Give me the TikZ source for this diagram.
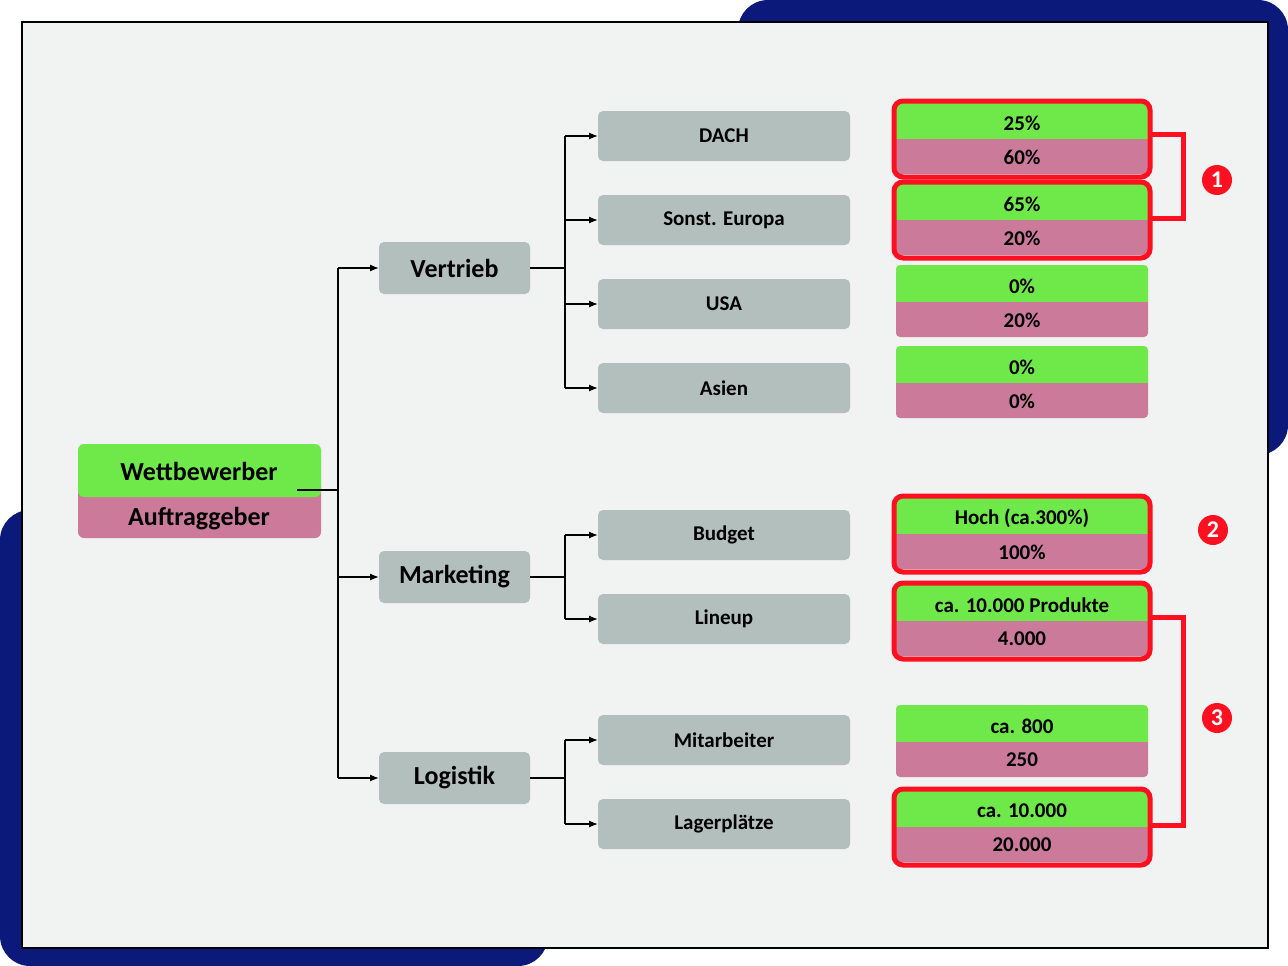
\documentclass[tikz,border=0pt]{standalone}
\usepackage{fontspec}
\setmainfont{Carlito}
\usetikzlibrary{arrows.meta}
\definecolor{navy}{HTML}{0B1A7A}
\definecolor{panel}{HTML}{F1F2F2}
\definecolor{gbox}{HTML}{B3BFBC}
\definecolor{grn}{HTML}{6FE84A}
\definecolor{pnk}{HTML}{CC7A9A}
\definecolor{hred}{HTML}{FF1020}
\begin{document}
\begin{tikzpicture}[x=1pt,y=-1pt,
 gray/.style={fill=gbox,rounded corners=5pt,draw=none},
 conn/.style={line width=1.3pt},
 arr/.style={line width=1.3pt,-{Latex[length=9pt,width=7pt]}},
 hl/.style={draw=hred,line width=5pt,rounded corners=9pt},
 num/.style={circle,fill=hred,text=white,inner sep=0pt,minimum size=30pt,font=\fontsize{24}{24}\selectfont\bfseries}]
\useasboundingbox (0,0) rectangle (1288,966);
\fill[navy,rounded corners=30pt] (738,0) rectangle (1288,455);
\fill[navy,rounded corners=30pt] (0,510) rectangle (548,966);
\draw[fill=panel,line width=1.5pt] (22,22) rectangle (1268,948);
% root
\fill[pnk,rounded corners=6pt] (78,480) rectangle (321,538);
\fill[grn,rounded corners=6pt] (78,444) rectangle (321,497);
\node[font=\fontsize{26}{26}\selectfont\bfseries] (root) at (199,471) {Wettbewerber};
\node[font=\fontsize{26}{26}\selectfont\bfseries] (root2) at (199,519) {Auftraggeber};
\coordinate (rs) at (297,490);
\coordinate (rj) at (338,490);
% mid
\foreach \n/\t/\y in {v/Vertrieb/268,m/Marketing/577,l/Logistik/778}{
 \fill[gbox,rounded corners=5pt] (379,\y-26) rectangle (530,\y+26);
 \node[font=\fontsize{26}{26}\selectfont\bfseries] (\n) at (454.5,\y) {\t};
 \coordinate (\n w) at (379,\y);
 \coordinate (\n e) at (530,\y);
 \coordinate (\n j) at (565,\y);
 \coordinate (\n J) at (338,\y);
}
\draw[conn] (rs) -- (rj);
\draw[conn] (vJ) -- (lJ);
\foreach \n in {v,m,l}{\draw[arr] (\n J) -- (\n w); \draw[conn] (\n e) -- (\n j);}
% leaves
\foreach \n/\t/\y/\p in {a/DACH/136/v,b/Sonst. Europa/220/v,c/USA/304/v,d/Asien/388/v,e/Budget/535/m,f/Lineup/619/m,g/Mitarbeiter/740/l,h/Lagerplätze/824/l}{
 \fill[gbox,rounded corners=5pt] (598,\y-25) rectangle (850,\y+25);
 \node[font=\fontsize{21}{21}\selectfont\bfseries] (\n) at (724,\y) {\t};
 \coordinate (\n w) at (598,\y);
 \coordinate (\n j) at (565,\y);
 \draw[arr] (\n j) -- (\n w);
}
\draw[conn] (aj) -- (dj);
\draw[conn] (ej) -- (fj);
\draw[conn] (gj) -- (hj);
% values
\foreach \n/\y/\g/\r in {A/140/25\%/60\%,B/221/65\%/20\%,C/303/0\%/20\%,D/384/0\%/0\%,E/535/Hoch (ca.300\%)/100\%,F/622/ca. 10.000 Produkte/4.000,G/743/ca. 800/250,H/828/ca. 10.000/20.000}{
 \fill[pnk,rounded corners=4pt] (896,\y-10) rectangle (1148,\y+34);
 \fill[grn,rounded corners=4pt] (896,\y-38) rectangle (1148,\y-2);
 \fill[grn] (896,\y-10) rectangle (1148,\y-1);
 \node[font=\fontsize{21}{21}\selectfont\bfseries] (\n g) at (1022,\y-17) {\g};
 \node[font=\fontsize{21}{21}\selectfont\bfseries] (\n r) at (1022,\y+17) {\r};
}
\foreach \y in {140,221,535,622,828}{\draw[hl] (894,\y-39) rectangle (1150,\y+37);}
\coordinate (b1a) at (1152,134); \coordinate (b1b) at (1152,218);
\coordinate (b3a) at (1152,617); \coordinate (b3b) at (1152,825);
\draw[hred,line width=5pt] (b1a) -- (1183,134) -- (1183,218) -- (b1b);
\draw[hred,line width=5pt] (b3a) -- (1183,617) -- (1183,825) -- (b3b);
\node[num] (n1) at (1217,180) {1};
\node[num] (n2) at (1213,530) {2};
\node[num] (n3) at (1217,718) {3};
\end{tikzpicture}
\end{document}
